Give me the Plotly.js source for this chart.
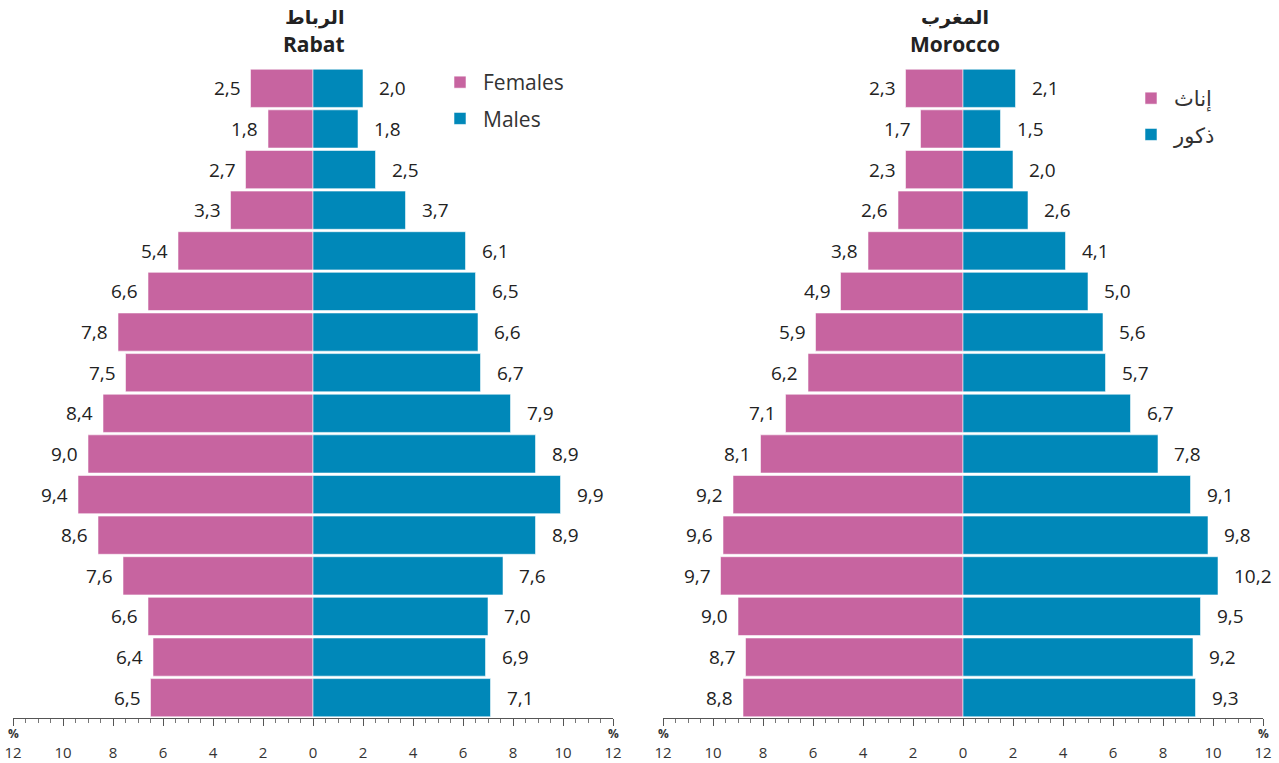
<!DOCTYPE html>
<html>
<head>
<meta charset="utf-8">
<script src="https://cdn.plot.ly/plotly-3.0.1.min.js"></script>
<style>html,body{margin:0;padding:0;background:#fff;}#chart{width:1279px;height:763px;}</style>
</head>
<body>
<div id="chart"></div>
<script>
// Age groups, oldest at top
const ageGroups = ['75+','70-74','65-69','60-64','55-59','50-54','45-49','40-44','35-39','30-34','25-29','20-24','15-19','10-14','5-9','0-4'];

const rabatFemales = [2.5,1.8,2.7,3.3,5.4,6.6,7.8,7.5,8.4,9.0,9.4,8.6,7.6,6.6,6.4,6.5];
const rabatMales   = [2.0,1.8,2.5,3.7,6.1,6.5,6.6,6.7,7.9,8.9,9.9,8.9,7.6,7.0,6.9,7.1];
const moroccoFemales = [2.3,1.7,2.3,2.6,3.8,4.9,5.9,6.2,7.1,8.1,9.2,9.6,9.7,9.0,8.7,8.8];
const moroccoMales   = [2.1,1.5,2.0,2.6,4.1,5.0,5.6,5.7,6.7,7.8,9.1,9.8,10.2,9.5,9.2,9.3];

const tickValues = [-12,-10,-8,-6,-4,-2,0,2,4,6,8,10,12];
const tickLabels = ['12','10','8','6','4','2','0','2','4','6','8','10','12'];

const titles = {rabat: ['الرباط','Rabat'], morocco: ['المغرب','Morocco']};
const legendNames = {rabat: ['Females','Males'], morocco: ['إناث','ذكور']};

const PINK = '#C764A0', BLUE = '#0088B9';
const fmt = v => v.toFixed(1).replace('.', ',');

function barTrace(vals, neg, name, color, xa, ya, legend, group) {
  return {
    type: 'bar', orientation: 'h',
    x: vals.map(v => neg ? -v : v), y: ageGroups,
    name: name, legend: legend, legendgroup: group,
    marker: {color: color, line: {color: 'rgba(255,255,255,0.55)', width: 1}},
    xaxis: xa, yaxis: ya, hoverinfo: 'skip'
  };
}

const data = [
  barTrace(rabatFemales, true, legendNames.rabat[0], PINK, 'x', 'y', 'legend', 'rf'),
  barTrace(rabatMales, false, legendNames.rabat[1], BLUE, 'x', 'y', 'legend', 'rm'),
  barTrace(moroccoFemales, true, legendNames.morocco[0], PINK, 'x2', 'y2', 'legend2', 'mf'),
  barTrace(moroccoMales, false, legendNames.morocco[1], BLUE, 'x2', 'y2', 'legend2', 'mm')
];

const annotations = [];
function valueLabels(vals, neg, xr, yr) {
  vals.forEach((v, i) => {
    annotations.push({
      x: neg ? -v : v, y: ageGroups[i], xref: xr, yref: yr,
      text: fmt(v), showarrow: false,
      xanchor: neg ? 'right' : 'left', yanchor: 'middle', xshift: neg ? -8 : 14,
      font: {family: 'Open Sans', size: 19, color: '#222'}
    });
  });
}
valueLabels(rabatFemales, true, 'x', 'y');
valueLabels(rabatMales, false, 'x', 'y');
valueLabels(moroccoFemales, true, 'x2', 'y2');
valueLabels(moroccoMales, false, 'x2', 'y2');

function titleAnn(t, xr, shift) {
  annotations.push({x: 0, xref: xr, y: 1 - 18/763, yref: 'paper', yanchor: 'middle', text: '<b>' + t[0] + '</b>',
    showarrow: false, xshift: shift, font: {family: 'DejaVu Sans', size: 19, color: '#222'}});
  annotations.push({x: 0, xref: xr, y: 1 - 44/763, yref: 'paper', yanchor: 'middle', text: '<b>' + t[1] + '</b>',
    showarrow: false, xshift: shift, font: {family: 'Open Sans', size: 21, color: '#222'}});
}
titleAnn(titles.rabat, 'x', 1);
titleAnn(titles.morocco, 'x2', -8);

['x','x2'].forEach(xr => {
  [-12, 12].forEach(p => annotations.push({x: p, xref: xr, y: 1 - 733/763, yref: 'paper', yanchor: 'middle',
    text: '<b>%</b>', showarrow: false, font: {family: 'Open Sans', size: 12, color: '#333'}}));
});

function xaxisDef(domain, anchor) {
  return {
    domain: domain, anchor: anchor, range: [-12, 12], fixedrange: true,
    tickmode: 'array', tickvals: tickValues, ticktext: tickLabels,
    ticks: 'outside', ticklen: 7, tickwidth: 1, tickcolor: '#555',
    minor: {tick0: 0, dtick: 0.5, ticks: 'outside', ticklen: 4, tickcolor: '#777', tickwidth: 1},
    showline: true, linecolor: '#555', linewidth: 1,
    showgrid: false, zeroline: false,
    ticklabelstandoff: 14,
    tickfont: {family: 'Open Sans', size: 15, color: '#333'}
  };
}
function yaxisDef(anchor) {
  return {
    domain: [45/763, 695/763], anchor: anchor, autorange: 'reversed',
    type: 'category', showticklabels: false, ticks: '', showgrid: false,
    zeroline: false, showline: false, fixedrange: true
  };
}

const layout = {
  width: 1279, height: 763,
  margin: {l: 0, r: 0, t: 0, b: 0},
  paper_bgcolor: '#fff', plot_bgcolor: '#fff',
  barmode: 'relative', bargap: 0.06,
  xaxis: xaxisDef([13/1279, 613/1279], 'y'),
  yaxis: yaxisDef('x'),
  xaxis2: xaxisDef([663/1279, 1263/1279], 'y2'),
  yaxis2: yaxisDef('x2'),
  showlegend: true,
  legend: {x: 437/1279, y: 1 - 62/763, xanchor: 'left', yanchor: 'top', traceorder: 'grouped',
    tracegroupgap: 6, itemwidth: 36, bgcolor: 'rgba(0,0,0,0)', font: {family: 'Open Sans', size: 21, color: '#333'}},
  legend2: {x: 1128/1279, y: 1 - 78/763, xanchor: 'left', yanchor: 'top', traceorder: 'grouped',
    tracegroupgap: 6, itemwidth: 36, bgcolor: 'rgba(0,0,0,0)', font: {family: 'DejaVu Sans', size: 21, color: '#333'}},
  annotations: annotations
};

Plotly.newPlot('chart', data, layout, {displayModeBar: false, staticPlot: true});
</script>
</body>
</html>
